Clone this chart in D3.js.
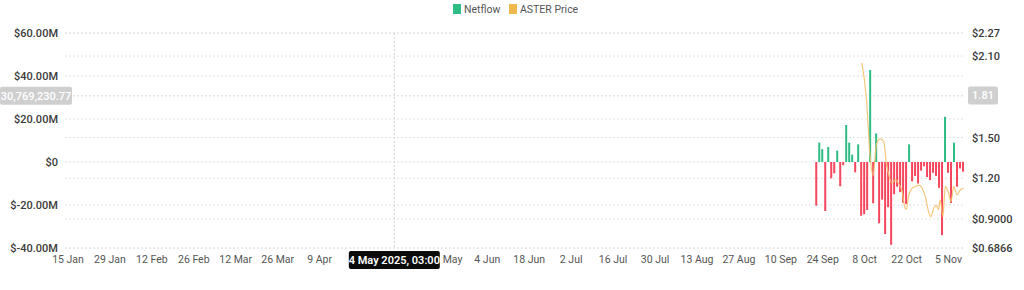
<!DOCTYPE html>
<html>
<head>
<meta charset="utf-8">
<script src="https://cdn.jsdelivr.net/npm/d3@7"></script>
<style>
  body { margin: 0; background: #fff; }
  text { font-family: Roboto, "Open Sans", sans-serif; }
</style>
</head>
<body>
<svg class="chart"></svg>
<script>
// netflow per day (USD millions), first bar on 22 Sep 2025
const netflowStart = "2025-09-22";
const netflowValues = [
  -20.3, 9.0, 6.0, -22.8, 7.0, -7.6, -5.3, 5.3, -11.3, -1.5,
  17.2, 9.0, 3.4, -4.8, 8.2, -25.0, -24.3, -22.3, 42.8, -19.2,
  13.3, -28.5, -17.5, -33.5, -21.0, -38.5, -15.0, -11.5, -14.0, -19.0,
  -19.5, 8.2, -9.0, -6.5, -10.0, -4.0, -2.0, -7.0, -8.4, -5.0,
  -6.5, -12.0, -34.0, 21.0, -5.0, -19.0, 9.0, -11.5, -3.0, -4.5
];

// ASTER price
const priceTimes = [
  "2025-10-07T05:00", "2025-10-08T17:00", "2025-10-10T00:00", "2025-10-10T22:00",
  "2025-10-12T05:00", "2025-10-13T10:00", "2025-10-14T12:00", "2025-10-15T10:00",
  "2025-10-16T05:00", "2025-10-17T07:00", "2025-10-18T10:00", "2025-10-19T12:00",
  "2025-10-20T17:00", "2025-10-21T10:00", "2025-10-22T02:00", "2025-10-22T19:00",
  "2025-10-24T00:00", "2025-10-25T02:00", "2025-10-26T05:00", "2025-10-27T07:00",
  "2025-10-28T10:00", "2025-10-29T12:00", "2025-10-30T07:00", "2025-10-31T05:00",
  "2025-11-01T02:00", "2025-11-01T19:00", "2025-11-02T10:00", "2025-11-03T07:00",
  "2025-11-04T02:00", "2025-11-05T05:00", "2025-11-06T00:00", "2025-11-06T22:00",
  "2025-11-08T00:00", "2025-11-09T02:00", "2025-11-10T05:00"
];
const priceValues = [
  2.05, 1.80, 1.36, 1.22,
  1.46, 1.49, 1.47, 1.31,
  1.225, 1.165, 1.19, 1.16,
  1.10, 1.00, 0.97, 1.065,
  1.126, 1.14, 1.15, 1.13,
  1.065, 0.955, 0.917, 0.98,
  1.00, 0.97, 1.04, 0.917,
  1.14, 1.09, 1.03, 1.14,
  1.077, 1.114, 1.126
];

const leftTicks = [60, 40, 20, 0, -20, -40];
const leftTickLabels = ["$60.00M", "$40.00M", "$20.00M", "$0", "$-20.00M", "$-40.00M"];
const rightTicks = [2.27, 2.10, 1.50, 1.20, 0.9000, 0.6866];
const rightTickLabels = ["$2.27", "$2.10", "$1.50", "$1.20", "$0.9000", "$0.6866"];
// 23 Apr and 7 May sit under the hover tag and are not visible
const xTickDates = [
  "2025-01-15", "2025-01-29", "2025-02-12", "2025-02-26", "2025-03-12", "2025-03-26",
  "2025-04-09", "2025-05-21", "2025-06-04", "2025-06-18",
  "2025-07-02", "2025-07-16", "2025-07-30", "2025-08-13", "2025-08-27", "2025-09-10",
  "2025-09-24", "2025-10-08", "2025-10-22", "2025-11-05"
];

// hovered point shown in the picture
const hoverTime = "2025-05-04T03:00";
const hoverNetflow = 30769230.77;
const hoverPrice = 1.81;

const drawChart = () => {
  const width = 1024, height = 290;
  const plot = {left: 65, right: 964, top: 33, bottom: 248};

  const parseT = (s) => new Date(s + (s.length > 10 ? ":00Z" : "T00:00:00Z"));

  const x = d3.scaleUtc()
    .domain([parseT("2025-01-14T04:00"), parseT("2025-11-10T08:00")])
    .range([plot.left, plot.right]);
  const yL = d3.scaleLinear().domain([-40, 60]).range([plot.bottom, plot.top]);
  const yR = d3.scaleLinear().domain([0.6866, 2.27]).range([plot.bottom, plot.top]);

  const bars = netflowValues.map((v, i) => ({
    date: d3.utcDay.offset(parseT(netflowStart), i), value: v
  }));
  const price = priceTimes.map((t, i) => ({date: parseT(t), value: priceValues[i]}));

  const svg = d3.select(".chart")
    .attr("width", width)
    .attr("height", height);

  // gridlines for both axes
  const grid = svg.append("g");
  grid.selectAll(".gl")
    .data(leftTicks)
    .enter().append("line")
      .attr("x1", plot.left).attr("x2", plot.right)
      .attr("y1", d => yL(d)).attr("y2", d => yL(d))
      .attr("stroke", "#e2e2e2").attr("stroke-dasharray", "2,2");
  grid.selectAll(".gr")
    .data(rightTicks)
    .enter().append("line")
      .attr("x1", plot.left).attr("x2", plot.right)
      .attr("y1", d => yR(d)).attr("y2", d => yR(d))
      .attr("stroke", "#e2e2e2").attr("stroke-dasharray", "2,2");

  // crosshair lines
  const hx = x(parseT(hoverTime));
  const hy = yL(hoverNetflow / 1e6);
  svg.append("line")
    .attr("x1", hx).attr("x2", hx).attr("y1", plot.top).attr("y2", plot.bottom)
    .attr("stroke", "#d6d6d6").attr("stroke-dasharray", "2,2");
  svg.append("line")
    .attr("x1", plot.left).attr("x2", plot.right).attr("y1", hy).attr("y2", hy)
    .attr("stroke", "#d6d6d6").attr("stroke-dasharray", "2,2");

  // netflow bars
  svg.selectAll(".bar")
    .data(bars)
    .enter().append("rect")
      .attr("x", d => x(d.date) - 1)
      .attr("width", 2)
      .attr("y", d => yL(Math.max(0, d.value)))
      .attr("height", d => Math.abs(yL(d.value) - yL(0)))
      .attr("fill", d => d.value >= 0 ? "#2ebd85" : "#f6465d");

  // price line
  const line = d3.line()
    .x(d => x(d.date))
    .y(d => yR(d.value))
    .curve(d3.curveMonotoneX);
  svg.append("path")
    .datum(price)
    .attr("d", line)
    .attr("fill", "none")
    .attr("stroke", "#f3c06a")
    .attr("stroke-width", 1.2)
    .attr("opacity", 0.9);

  // left axis labels
  svg.append("g")
    .attr("transform", "translate(" + (plot.left - 7) + ",0)")
    .call(d3.axisLeft(yL).tickValues(leftTicks).tickSize(0).tickPadding(0)
      .tickFormat((d, i) => leftTickLabels[i]))
    .call(g => g.select(".domain").remove())
    .selectAll("text")
      .attr("fill", "#3a3a3a").style("font-size", "11px").style("font-weight", 500);

  // right axis labels
  svg.append("g")
    .attr("transform", "translate(" + (plot.right + 8) + ",0)")
    .call(d3.axisRight(yR).tickValues(rightTicks).tickSize(0).tickPadding(0)
      .tickFormat((d, i) => rightTickLabels[i]))
    .call(g => g.select(".domain").remove())
    .selectAll("text")
      .attr("fill", "#3a3a3a").style("font-size", "11px").style("font-weight", 500);

  // x axis labels
  svg.append("g")
    .attr("transform", "translate(0," + (plot.bottom + 8) + ")")
    .call(d3.axisBottom(x).tickValues(xTickDates.map(parseT)).tickSize(0).tickPadding(0)
      .tickFormat(d3.utcFormat("%-d %b")))
    .call(g => g.select(".domain").remove())
    .selectAll("text")
      .attr("fill", "#555").style("font-size", "10.5px");

  // crosshair labels
  const tag = (cx, cy, w, h, fill, label, color, weight) => {
    svg.append("rect")
      .attr("x", cx - w / 2).attr("y", cy - h / 2)
      .attr("width", w).attr("height", h).attr("rx", 2)
      .attr("fill", fill);
    svg.append("text")
      .attr("x", cx).attr("y", cy).attr("dy", "0.35em")
      .attr("text-anchor", "middle")
      .attr("fill", color)
      .style("font-size", "11px").style("font-weight", weight)
      .text(label);
  };
  tag(36, hy, 72, 18, "#cfcfcf", d3.format(",.2f")(hoverNetflow), "#fff", 500);
  tag(983, yR(hoverPrice), 30, 18, "#cfcfcf", hoverPrice.toFixed(2), "#fff", 500);
  tag(hx, 260, 91, 18, "#0b0b0b", d3.utcFormat("%-d %b %Y, %H:%M")(parseT(hoverTime)), "#fff", 600);

  // legend
  const legendItems = [
    {name: "Netflow", color: "#2ebd85", x: 453},
    {name: "ASTER Price", color: "#f0b94f", x: 509}
  ];
  const legend = svg.selectAll(".legend")
    .data(legendItems)
    .enter().append("g")
      .attr("transform", d => "translate(" + d.x + ",4)");
  legend.append("rect")
    .attr("width", 8).attr("height", 10)
    .attr("fill", d => d.color);
  legend.append("text")
    .attr("x", 11).attr("y", 5).attr("dy", "0.35em")
    .attr("fill", "#555").style("font-size", "10.5px")
    .text(d => d.name);
};

drawChart();
</script>
</body>
</html>
